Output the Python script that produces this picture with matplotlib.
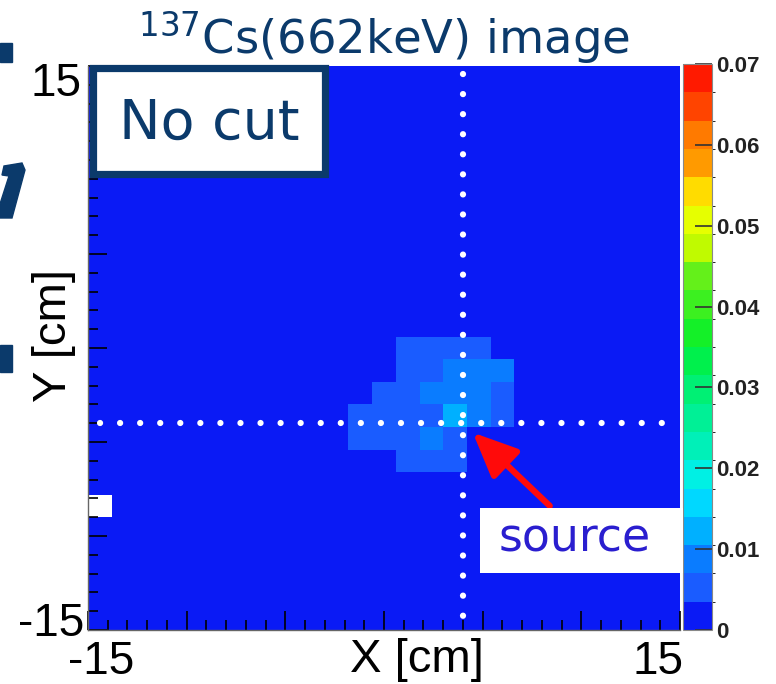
import numpy as np
import matplotlib.pyplot as plt
from matplotlib.colors import ListedColormap, BoundaryNorm
from matplotlib.patches import Rectangle, Polygon

# 137Cs image, 25 x 25 bins of 1.2 cm from -15 to 15 cm
x_range = (-15, 15)
y_range = (-15, 15)
n_bins = 25
background = 0.0015

# bins around the source, rows from top to bottom, columns 11..17 from the left
blob_col0 = 11
blob_row0 = 12
blob = [
    [0.0015, 0.0015, 0.005, 0.005, 0.005, 0.005, 0.0015],
    [0.0015, 0.0015, 0.005, 0.005, 0.009, 0.009, 0.009],
    [0.0015, 0.005, 0.005, 0.009, 0.009, 0.009, 0.005],
    [0.005, 0.005, 0.005, 0.005, 0.012, 0.009, 0.005],
    [0.005, 0.005, 0.005, 0.009, 0.005, 0.0015, 0.0015],
    [0.0015, 0.0015, 0.005, 0.005, 0.005, 0.0015, 0.0015],
]
empty_cells = [(0, 19)]  # (column, row from top) with no entries

source_xy = (4.0, -4.0)
arrow_tail = (8.4, -8.4)
arrow_head = (4.5, -4.5)

z_max = 0.07
cbar_ticks = [0, 0.01, 0.02, 0.03, 0.04, 0.05, 0.06, 0.07]
cbar_labels = ["0", "0.01", "0.02", "0.03", "0.04", "0.05", "0.06", "0.07"]

# ROOT-like palette, 20 contours
palette = ["#0a1af5", "#1a5cff", "#0a7cff", "#00b0ff", "#00d8ff",
           "#00f0e4", "#00f0b8", "#00f096", "#00f074", "#00f04c",
           "#14f028", "#3cf020", "#64f01a", "#c0fa00", "#e6ff00",
           "#ffdc00", "#ff9a00", "#ff7a00", "#ff4400", "#ff1a00"]

navy = "#0b3a6b"
W, H = 776, 684


def px(x, y):
    return (x / W, 1 - y / H)


img = np.full((n_bins, n_bins), background)
for r, row in enumerate(blob):
    for c, v in enumerate(row):
        img[n_bins - 1 - (blob_row0 + r), blob_col0 + c] = v
for c, r in empty_cells:
    img[n_bins - 1 - r, c] = 0
img = np.ma.masked_equal(img, 0)

edges_x = np.linspace(*x_range, n_bins + 1)
edges_y = np.linspace(*y_range, n_bins + 1)

cmap = ListedColormap(palette)
cmap.set_bad("white")
norm = BoundaryNorm(np.linspace(0, z_max, len(palette) + 1), cmap.N)

fig = plt.figure(figsize=(W / 100, H / 100), dpi=100)
ax = fig.add_axes([88 / W, 1 - 630 / H, (680 - 88) / W, (630 - 66) / H])
cax = fig.add_axes([683 / W, 1 - 630 / H, 29 / W, (630 - 64) / H])

mesh = ax.pcolormesh(edges_x, edges_y, img, cmap=cmap, norm=norm)
ax.set_xlim(x_range)
ax.set_ylim(y_range)

# dotted guide lines through the source
ax.plot([source_xy[0], source_xy[0]], [14.6, -14.6], color="white", lw=4.5,
        dashes=(0.01, 3.2), dash_capstyle="round")
ax.plot([-14.4, 14.3], [source_xy[1], source_xy[1]], color="white", lw=4.5,
        dashes=(0.01, 3.2), dash_capstyle="round")

ax.annotate("", xy=arrow_head, xytext=arrow_tail,
            arrowprops=dict(arrowstyle="-|>,head_length=0.9,head_width=0.4",
                            color="#ff0a0a", lw=4.5, mutation_scale=30,
                            shrinkA=0, shrinkB=0))

# ticks like ROOT: inside, major every 5 cm, labels only at the ends
major = np.arange(-15, 16, 5)
ax.set_xticks(major)
ax.set_yticks(major)
ax.set_xticks(np.arange(-15, 16, 1), minor=True)
ax.set_yticks(np.arange(-15, 16, 1), minor=True)
ax.set_xticklabels([])
ax.set_yticklabels([])
ax.tick_params(which="both", direction="in", color="black", width=1.2,
               top=False, right=False)
ax.tick_params(which="major", length=14)
ax.tick_params(which="minor", length=7)
for s in ["top", "right"]:
    ax.spines[s].set_visible(False)
for s in ["left", "bottom"]:
    ax.spines[s].set_color("#666666")
    ax.spines[s].set_linewidth(1)

# end labels placed the way ROOT shifts them
lab_kw = dict(fontsize=33, family="Liberation Sans")
fig.text(*px(68, 662), "-15", ha="left", va="center", **lab_kw)
fig.text(*px(684, 662), "15", ha="right", va="center", **lab_kw)
fig.text(*px(82, 84), "15", ha="right", va="center", **lab_kw)
fig.text(*px(84, 624), "-15", ha="right", va="center", **lab_kw)

fig.text(*px(417, 660), "X [cm]", ha="center", va="center", fontsize=34,
         family="Liberation Sans")
fig.text(*px(54, 336), "Y [cm]", ha="center", va="center", fontsize=34,
         family="Liberation Sans", rotation=90)

# colour scale
cb = fig.colorbar(mesh, cax=cax, ticks=cbar_ticks)
cb.ax.set_yticklabels(cbar_labels)
cb.ax.tick_params(direction="in", length=12, width=1.2, color="#333333",
                  labelsize=16, pad=3)
for t in cb.ax.get_yticklabels():
    t.set_fontweight("bold")
    t.set_color("#222222")
    t.set_family("Liberation Sans")
cb.outline.set_edgecolor("#888888")
cb.outline.set_linewidth(0.8)

# title and boxes
fig.text(*px(384, 37), r"$^{137}$Cs(662keV) image", ha="center", va="center",
         fontsize=33.5, color=navy)

fig.patches.append(Rectangle(px(92.5, 173.5), (324.5 - 92.5) / W, (173.5 - 67.5) / H,
                             transform=fig.transFigure, facecolor="white",
                             edgecolor=navy, lw=5.2, zorder=5))
fig.text(*px(209, 124), "No cut", ha="center", va="center", fontsize=40,
         color=navy, zorder=6)

fig.patches.append(Rectangle(px(480, 573), (683 - 480) / W, (573 - 508) / H,
                             transform=fig.transFigure, facecolor="white",
                             edgecolor="none", zorder=5))
fig.text(*px(575, 538), "source", ha="center", va="center", fontsize=33,
         color="#2a1ecf", zorder=6)

# slide fragments cut off at the left edge
for x0, y0, x1, y1 in [(0, 43, 12, 62), (0, 345, 12, 372)]:
    fig.patches.append(Rectangle(px(x0, y1), (x1 - x0) / W, (y1 - y0) / H,
                                 transform=fig.transFigure, color=navy))
frag = [(4, 166), (22, 163), (25, 170), (12, 218), (0, 218), (0, 204), (9, 176), (2, 175)]
fig.patches.append(Polygon([px(*p) for p in frag], closed=True,
                           transform=fig.transFigure, color=navy))

fig.savefig("out.png", dpi=100)
